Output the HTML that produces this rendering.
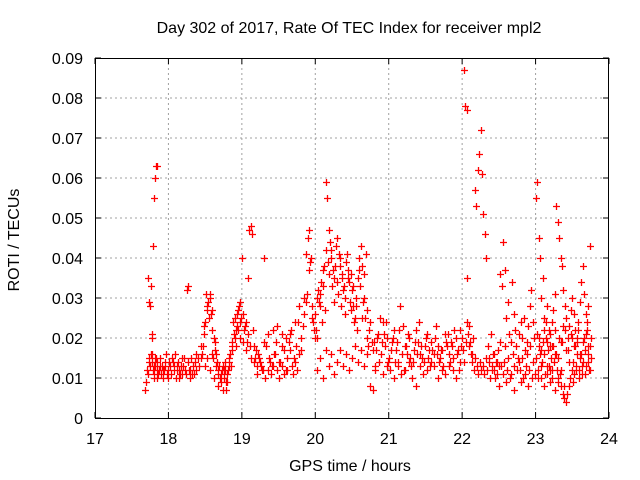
<!DOCTYPE html>
<html><head><meta charset="utf-8">
<style>
html,body{margin:0;padding:0;background:#fff;}
svg{display:block;font-family:"Liberation Sans",sans-serif;}
</style></head>
<body>
<svg id="chart" width="640" height="480" viewBox="0 0 640 480" xmlns="http://www.w3.org/2000/svg">
<rect width="640" height="480" fill="#fff"/>
<text x="349" y="33" text-anchor="middle" font-size="16" fill="#000">Day 302 of 2017, Rate Of TEC Index for receiver mpl2</text>
<g id="grid"></g>
<g id="pts"></g>
<g id="axes"></g>
<text transform="translate(19,240) rotate(-90)" text-anchor="middle" font-size="16">ROTI / TECUs</text>
<text x="350" y="471" text-anchor="middle" font-size="16">GPS time / hours</text>
</svg>
<script>
const xTicks=[17,18,19,20,21,22,23,24];
const yTicks=[0,0.01,0.02,0.03,0.04,0.05,0.06,0.07,0.08,0.09];
const yTickLabels=["0","0.01","0.02","0.03","0.04","0.05","0.06","0.07","0.08","0.09"];
const times=[
17.68,17.70,17.71,17.72,17.73,17.74,17.75,17.76,17.77,17.78,17.79,17.80,17.81,17.82,17.83,17.84,17.85,17.86,17.87,17.88,17.90,17.92,17.94,17.96,17.98,
17.72,17.74,17.75,17.76,17.77,17.78,17.79,17.80,17.82,17.83,17.84,
18.00,18.02,18.04,18.06,18.08,18.10,18.12,18.14,18.16,18.18,18.20,18.22,18.24,18.25,18.26,18.28,18.30,18.32,18.34,18.36,18.38,18.40,18.42,18.44,
18.46,18.48,18.50,18.52,18.54,18.56,18.58,18.60,18.62,18.64,18.66,18.68,18.70,18.72,18.74,18.76,18.78,18.80,18.82,18.84,18.86,18.88,18.90,18.92,18.94,18.96,18.98,
18.50,18.53,18.56,18.59,18.62,18.65,18.68,18.71,18.74,18.77,18.80,18.83,18.86,18.89,18.92,18.95,18.98,19.00,19.01,19.02,19.04,19.06,
19.08,19.10,19.12,19.14,19.15,19.16,19.18,19.20,19.22,19.25,19.28,19.30,19.32,19.35,19.38,19.40,19.42,19.45,19.48,19.50,19.52,19.55,19.58,19.60,19.62,19.65,19.68,19.70,19.72,19.75,19.78,19.80,
19.30,19.36,19.42,19.48,19.54,19.60,19.66,19.72,19.78,19.84,19.88,19.90,19.92,19.94,19.96,19.98,
20.00,20.02,20.04,20.06,20.08,20.10,20.12,20.14,20.15,20.16,20.18,20.20,20.22,20.24,20.26,20.28,20.30,20.32,20.34,20.36,20.38,20.40,20.42,20.44,20.46,20.48,20.50,20.52,20.54,20.56,20.58,20.60,20.62,20.64,20.66,20.68,20.70,20.72,
20.02,20.06,20.10,20.14,20.18,20.22,20.26,20.30,20.34,20.38,20.42,20.46,20.50,20.54,20.58,20.62,20.66,20.70,20.74,20.78,
20.80,20.83,20.86,20.89,20.92,20.95,20.98,21.01,21.04,21.07,21.10,21.13,21.16,21.19,21.22,21.25,21.28,21.31,21.34,21.37,21.40,21.43,21.46,21.49,21.52,21.55,21.58,21.61,21.64,21.67,21.70,21.73,21.76,21.79,21.82,21.85,21.88,21.91,21.94,21.97,
20.82,20.87,20.92,20.97,21.02,21.07,21.12,21.17,21.22,21.27,21.32,21.37,21.42,21.47,21.52,21.57,21.62,21.67,21.72,21.77,21.82,21.87,21.92,21.97,
22.00,22.02,22.04,22.06,22.08,22.10,22.12,22.14,22.16,22.18,22.20,22.22,22.24,22.26,22.28,22.30,22.32,22.34,22.36,22.38,22.40,22.42,22.44,22.46,22.48,22.50,
22.06,22.07,22.17,22.19,22.21,22.23,22.25,22.27,22.29,22.31,22.33,
22.52,22.54,22.56,22.58,22.60,22.62,22.64,22.66,22.68,22.70,22.72,22.74,22.76,22.78,22.80,22.82,22.84,22.86,22.88,22.90,22.92,22.94,22.96,22.98,
22.40,22.45,22.50,22.55,22.60,22.65,22.70,22.75,22.80,22.85,22.90,22.95,
23.00,23.02,23.04,23.06,23.08,23.10,23.12,23.14,23.16,23.18,23.20,23.22,23.24,23.26,23.28,23.30,23.32,23.34,23.36,23.38,23.40,23.42,23.44,23.46,23.48,23.50,23.52,23.54,23.56,23.58,23.60,23.62,23.64,23.66,23.68,23.70,23.72,23.74,
23.01,23.03,23.05,23.07,23.09,23.11,23.13,23.15,23.17,23.19,23.21,23.23,23.25,23.27,23.29,23.31,23.33,23.35,23.37,23.39,23.41,23.43,23.45,23.47,23.49,23.51,23.53,23.55,23.57,23.59,23.61,23.63,23.65,23.67,23.69,23.71,23.73,23.75,
23.04,23.08,23.12,23.16,23.20,23.24,23.28,23.32,23.36,23.40,23.44,23.48,23.52,23.56,23.60,23.64,23.68,23.72,23.75
];
const roti=[
0.007,0.009,0.012,0.011,0.014,0.015,0.013,0.016,0.015,0.014,0.012,0.011,0.010,0.013,0.015,0.014,0.012,0.011,0.012,0.013,0.011,0.010,0.012,0.013,0.011,
0.035,0.029,0.028,0.033,0.021,0.020,0.043,0.055,0.060,0.063,0.063,
0.012,0.013,0.011,0.014,0.012,0.010,0.013,0.012,0.011,0.015,0.013,0.012,0.011,0.032,0.033,0.012,0.010,0.011,0.013,0.014,0.012,0.015,0.013,0.018,
0.016,0.021,0.024,0.027,0.029,0.031,0.026,0.022,0.020,0.017,0.014,0.012,0.010,0.011,0.013,0.012,0.009,0.011,0.013,0.016,0.019,0.024,0.025,0.022,0.026,0.028,0.024,
0.013,0.015,0.012,0.016,0.010,0.013,0.008,0.011,0.007,0.012,0.009,0.014,0.017,0.021,0.018,0.022,0.020,0.040,0.026,0.019,0.023,0.017,
0.035,0.047,0.048,0.046,0.022,0.018,0.015,0.013,0.016,0.014,0.012,0.040,0.010,0.012,0.014,0.011,0.013,0.016,0.012,0.010,0.014,0.013,0.011,0.012,0.015,0.017,0.013,0.011,0.014,0.012,0.016,0.020,
0.019,0.021,0.022,0.023,0.018,0.020,0.021,0.024,0.028,0.030,0.041,0.045,0.047,0.040,0.025,0.022,
0.026,0.030,0.032,0.028,0.034,0.037,0.038,0.042,0.059,0.055,0.047,0.044,0.040,0.037,0.035,0.043,0.045,0.041,0.038,0.035,0.032,0.030,0.039,0.037,0.034,0.036,0.032,0.028,0.025,0.030,0.035,0.040,0.043,0.038,0.030,0.025,0.020,0.018,
0.012,0.015,0.010,0.017,0.013,0.016,0.011,0.014,0.017,0.013,0.016,0.012,0.015,0.018,0.014,0.017,0.013,0.016,0.008,0.007,
0.019,0.017,0.021,0.016,0.024,0.018,0.020,0.015,0.019,0.022,0.017,0.014,0.028,0.023,0.018,0.016,0.020,0.013,0.017,0.022,0.019,0.016,0.015,0.018,0.021,0.017,0.019,0.016,0.023,0.018,0.015,0.017,0.021,0.018,0.016,0.019,0.015,0.020,0.017,0.022,
0.012,0.014,0.011,0.013,0.012,0.010,0.013,0.011,0.012,0.014,0.010,0.008,0.013,0.011,0.012,0.014,0.013,0.010,0.012,0.011,0.013,0.012,0.010,0.014,
0.020,0.087,0.078,0.035,0.021,0.018,0.016,0.014,0.012,0.015,0.013,0.011,0.014,0.012,0.013,0.011,0.015,0.012,0.014,0.010,0.013,0.016,0.012,0.014,0.011,0.013,
0.077,0.024,0.057,0.053,0.062,0.066,0.072,0.061,0.051,0.046,0.040,
0.036,0.033,0.044,0.037,0.025,0.029,0.021,0.019,0.034,0.026,0.022,0.018,0.015,0.021,0.024,0.020,0.025,0.017,0.019,0.023,0.028,0.032,0.024,0.020,
0.012,0.010,0.008,0.011,0.009,0.010,0.007,0.012,0.009,0.011,0.008,0.010,
0.055,0.059,0.045,0.040,0.030,0.035,0.025,0.020,0.028,0.022,0.018,0.024,0.027,0.031,0.053,0.049,0.045,0.040,0.038,0.032,0.028,0.025,0.020,0.023,0.027,0.030,0.026,0.022,0.019,0.024,0.029,0.034,0.038,0.031,0.026,0.022,0.028,0.043,
0.015,0.012,0.018,0.010,0.014,0.016,0.011,0.013,0.017,0.012,0.015,0.010,0.014,0.016,0.012,0.009,0.011,0.008,0.006,0.005,0.004,0.006,0.008,0.010,0.012,0.014,0.011,0.013,0.016,0.012,0.015,0.011,0.014,0.017,0.013,0.016,0.012,0.015,
0.020,0.017,0.022,0.019,0.021,0.018,0.016,0.020,0.019,0.022,0.017,0.021,0.018,0.020,0.016,0.019,0.021,0.018,0.020
];
const extraTimes=[
17.78,17.80,17.82,17.85,17.88,17.91,17.93,17.95,17.97,17.99,18.01,18.03,18.05,18.07,18.09,18.11,18.13,18.15,18.17,18.19,18.21,18.23,18.27,18.29,18.31,18.33,18.35,18.37,
18.45,18.47,18.49,18.51,18.53,18.55,18.57,18.59,18.61,18.63,18.65,18.67,18.69,18.71,18.73,18.75,18.77,18.79,18.81,18.83,18.85,18.87,18.89,18.91,18.93,18.95,18.97,18.99,
19.03,19.05,19.07,19.09,19.11,19.13,19.17,19.19,19.21,19.23,19.26,19.29,19.33,19.37,19.41,19.44,19.47,19.51,19.54,19.57,19.61,19.64,19.67,19.71,19.74,19.77,19.81,19.83,19.85,19.87,19.89,19.91,19.93,19.95,19.97,19.99,
20.01,20.03,20.05,20.07,20.09,20.11,20.13,20.17,20.19,20.21,20.23,20.25,20.27,20.29,20.31,20.33,20.35,20.37,20.39,20.41,20.43,20.45,20.47,20.49,20.51,20.53,20.55,20.57,20.59,20.61,20.63,20.65,20.67,20.69,20.71,20.73,20.75,20.77,20.79,
20.81,20.84,20.88,20.91,20.94,20.96,20.99,21.03,21.06,21.09,21.11,21.14,21.18,21.21,21.24,21.26,21.29,21.33,21.36,21.39,21.41,21.44,21.48,21.51,21.54,21.56,21.59,21.63,21.66,21.69,21.71,21.74,21.78,21.81,21.84,21.86,21.89,21.93,21.96,21.99,
22.01,22.03,22.05,22.09,22.11,22.13,22.15,22.35,22.37,22.39,22.41,22.43,22.47,22.49,22.51,22.53,22.57,22.59,22.61,22.63,22.67,22.69,22.71,22.73,22.77,22.79,22.81,22.83,22.87,22.89,22.91,22.93,22.97,22.99,
23.02,23.06,23.10,23.14,23.18,23.22,23.26,23.30,23.34,23.38,23.42,23.46,23.50,23.54,23.58,23.62,23.66,23.70,23.74,
23.03,23.07,23.11,23.15,23.19,23.23,23.27,23.31,23.35,23.39,23.43,23.47,23.51,23.55,23.59,23.63,23.67,23.71,23.74
];
const extraRoti=[
0.016,0.013,0.015,0.010,0.015,0.013,0.012,0.014,0.016,0.010,0.014,0.011,0.015,0.013,0.016,0.012,0.014,0.010,0.013,0.011,0.015,0.012,0.014,0.012,0.015,0.013,0.011,0.016,
0.015,0.018,0.023,0.031,0.028,0.025,0.030,0.027,0.015,0.019,0.016,0.011,0.013,0.009,0.012,0.010,0.014,0.007,0.012,0.015,0.013,0.018,0.021,0.020,0.023,0.027,0.029,0.025,
0.022,0.024,0.019,0.021,0.018,0.015,0.014,0.017,0.011,0.015,0.013,0.012,0.018,0.015,0.013,0.016,0.019,0.014,0.021,0.017,0.012,0.019,0.022,0.015,0.018,0.024,0.017,0.023,0.026,0.029,0.031,0.037,0.039,0.028,0.024,0.020,
0.022,0.020,0.029,0.031,0.024,0.033,0.027,0.039,0.036,0.042,0.033,0.029,0.038,0.034,0.031,0.040,0.028,0.036,0.033,0.026,0.041,0.035,0.029,0.027,0.033,0.024,0.028,0.022,0.037,0.033,0.025,0.029,0.036,0.041,0.027,0.022,0.024,0.019,0.017,
0.013,0.020,0.025,0.019,0.021,0.024,0.014,0.017,0.020,0.014,0.019,0.022,0.016,0.012,0.018,0.021,0.015,0.014,0.019,0.016,0.024,0.018,0.014,0.020,0.015,0.013,0.017,0.020,0.016,0.014,0.017,0.013,0.019,0.021,0.014,0.018,0.022,0.016,0.012,0.018,
0.017,0.014,0.019,0.023,0.019,0.016,0.020,0.018,0.015,0.021,0.013,0.016,0.014,0.017,0.019,0.013,0.014,0.018,0.012,0.015,0.011,0.016,0.013,0.018,0.014,0.012,0.015,0.010,0.013,0.016,0.012,0.018,0.014,0.011,
0.021,0.016,0.019,0.024,0.013,0.018,0.022,0.015,0.019,0.023,0.017,0.014,0.020,0.018,0.022,0.016,0.020,0.024,0.018,
0.010,0.013,0.008,0.011,0.009,0.012,0.007,0.010,0.012,0.008,0.006,0.010,0.009,0.012,0.010,0.013,0.011,0.014,0.012
];
const L=95,R=609,T=58,B=418;
const xs=v=>L+(v-17)/(24-17)*(R-L);
const ys=v=>B-(v/0.09)*(B-T);
const NS="http://www.w3.org/2000/svg";
function mk(tag,attrs,parent){const e=document.createElementNS(NS,tag);for(const k in attrs)e.setAttribute(k,attrs[k]);parent.appendChild(e);return e;}
const grid=document.getElementById('grid'),axes=document.getElementById('axes'),pts=document.getElementById('pts');
xTicks.forEach((t,i)=>{
  const x=xs(t);
  if(i>0&&i<xTicks.length-1){const g=mk('line',{x1:x,x2:x,y1:T,y2:B,stroke:'#a0a0a0','stroke-dasharray':'2,3'},grid);
  
  }
  mk('line',{x1:x,x2:x,y1:B,y2:B-6,stroke:'#000'},axes);
  mk('line',{x1:x,x2:x,y1:T,y2:T+6,stroke:'#000'},axes);
  const lb=mk('text',{x:x,y:444,'text-anchor':'middle','font-size':'16'},axes);
  lb.textContent=t;
  
  
});
yTicks.forEach((t,i)=>{
  const y=ys(t);
  if(i>0&&i<yTicks.length-1){const g=mk('line',{x1:L,x2:R,y1:y,y2:y,stroke:'#a0a0a0','stroke-dasharray':'2,3'},grid);
  
  }
  mk('line',{x1:L,x2:L+6,y1:y,y2:y,stroke:'#000'},axes);
  mk('line',{x1:R,x2:R-6,y1:y,y2:y,stroke:'#000'},axes);
  const lb=mk('text',{x:L-12,y:y+6,'text-anchor':'end','font-size':'16'},axes);
  lb.textContent=yTickLabels[i];
  
  
});
const frame=mk('rect',{x:L+0.5,y:T+0.5,width:R-L-1,height:B-T,fill:'none',stroke:'#000'},axes);


let d='';
function addPts(tA,vA){
  for(let i=0;i<tA.length;i++){
    const x=Math.round(xs(tA[i]))+0.5,y=Math.round(ys(vA[i]))+0.5;
    d+=`M${x-3.5} ${y}h7M${x} ${y-3.5}v7`;
  }
}
addPts(times,roti);
addPts(extraTimes,extraRoti);
const p=mk('path',{d:d,stroke:'#ff0000','stroke-width':'1.3',fill:'none'},pts);


</script>
</body></html>
